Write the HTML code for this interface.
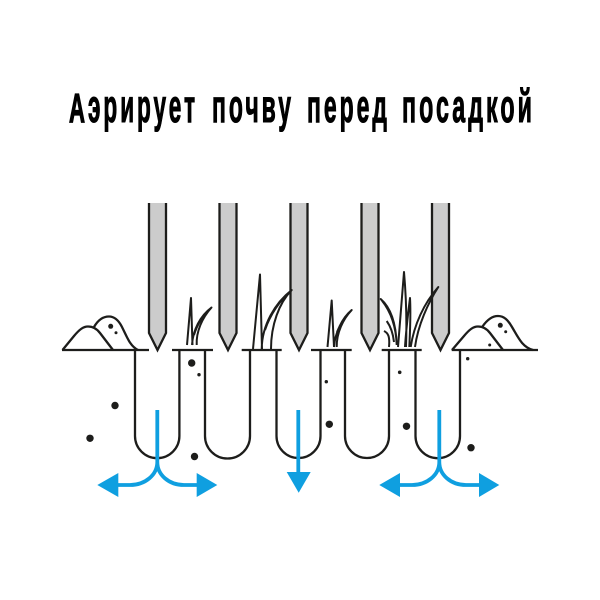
<!DOCTYPE html>
<html><head><meta charset="utf-8"><style>html,body{margin:0;padding:0;background:#fff}svg{display:block}
text{font-family:"Liberation Sans","DejaVu Sans",sans-serif;font-weight:700;fill:#000;stroke:#000;stroke-width:1.100}
</style></head><body>
<svg width="600" height="600" viewBox="0 0 600 600" xmlns="http://www.w3.org/2000/svg">
<rect width="600" height="600" fill="#fff"/>
<text x="69" y="122" font-size="41" textLength="16" lengthAdjust="spacingAndGlyphs" style="stroke-width:1.300">А</text>
<text x="88" y="122" font-size="46" letter-spacing="6" textLength="110" lengthAdjust="spacingAndGlyphs">эрирует</text>
<text x="212" y="122" font-size="46" letter-spacing="6" textLength="82" lengthAdjust="spacingAndGlyphs">почву</text>
<text x="307" y="122" font-size="46" letter-spacing="6" textLength="83" lengthAdjust="spacingAndGlyphs">перед</text>
<text x="402" y="122" font-size="46" letter-spacing="6" textLength="133" lengthAdjust="spacingAndGlyphs">посадкой</text>

<g fill="#ccc" stroke="#1d1d1b" stroke-width="2.300">
<path d="M149 203V333L157.500 350L166 333V203"/>
<path d="M219.500 203V333L228 350L236.500 333V203"/>
<path d="M290.500 203V333L299 350L307.500 333V203"/>
<path d="M361.500 203V333L370 350L378.500 333V203"/>
<path d="M432 203V333L440.500 350L449 333V203"/>
</g>
<g fill="none" stroke="#1d1d1b" stroke-width="2.300">
<path d="M62 350H149M172 350H213M241.700 350H281.700M311 350H351.700M381.700 350H421.700M451.700 350H538"/>
<path d="M135 350V436A22.200 22.200 0 0 0 179.400 436V350"/>
<path d="M205 350V436A22.500 22.500 0 0 0 250 436V350"/>
<path d="M276.500 350V436A22 22 0 0 0 320.500 436V350"/>
<path d="M345 350V436A22 22 0 0 0 389 436V350"/>
<path d="M415.500 350V436A22.200 22.200 0 0 0 460 436V350"/>
<path d="M62.500 350L74 336C79 330 83 326.500 88 326.500C93 326.500 97 329 100 333L113 350"/>
<path d="M94 327C98 320 103 316.500 109 316.500C115 316.500 119 321 122 327C127 337 130 346 138 350"/>
<path d="M452 350L464 336C469 330 473 326.500 478 326.500C483 326.500 487 329 490 333L503 350"/>
<path d="M482.500 326.500C487 320 492 316 498 316C504 316 508 320 512 327C518 337 522 347 533 350"/>
</g>
<g fill="#1d1d1b" stroke="#1d1d1b" stroke-linejoin="round">
<path d="M187 345L191 298L192.500 345M192 345C193 330 200 316 211.500 307.500C202 318 196 332 196.700 345M194 335C197 325 203 315 211.500 307.500" fill="none" stroke-width="2"/>
<path d="M253 349L260 274.500L262 349M261.700 349C262 325 275 303 291.700 290C279 303 271 325 271 349M265 330C270 315 280 300 291.700 290" fill="none" stroke-width="2"/>
<path d="M327.500 347L331.700 300.500L334 347M334 347C335 333 342 318 351.700 310C343 319 336.500 333 336.700 347M337 332C340 325 345 316 351.700 310" fill="none" stroke-width="2"/>
<path d="M398 347C400 320 402 295 404 272C406 295 407 320 406 347M405 347C406 330 408 314 410 298C411 315 410 332 409.300 347M410.700 347C414 325 424 303 438.300 287C428 303 418 325 415 347M396.700 345C396 325 390 310 380.700 299C390 307 396 322 396.700 345M389 347C390 336 388 333 384 331M394 342C393 333 391 327 386.700 321" fill="none" stroke-width="2"/>
</g>
<g fill="#1d1d1b">
<circle cx="110.700" cy="326.300" r="2.500"/><circle cx="116" cy="332.700" r="1.500"/>
<circle cx="500.300" cy="325.300" r="2.500"/><circle cx="505.700" cy="331.700" r="1.500"/><circle cx="489.700" cy="345" r="1.500"/><circle cx="467.700" cy="358.700" r="1.700"/>
<circle cx="191.700" cy="363" r="3.700"/><circle cx="199" cy="374.700" r="1.700"/><circle cx="115" cy="405.500" r="3.700"/><circle cx="90" cy="438.300" r="3.700"/><circle cx="194.500" cy="456.500" r="3.700"/>
<circle cx="326.300" cy="381.700" r="1.700"/><circle cx="329.300" cy="424.300" r="3.700"/><circle cx="399.700" cy="372.300" r="1.800"/><circle cx="406.500" cy="426.300" r="3.700"/><circle cx="471" cy="447.700" r="3.700"/>
</g>
<g fill="none" stroke="#0f9fe0" stroke-width="3.800">
<path d="M157.300 410V462C157.300 475 145 485 130 485H112M157.300 462C157.300 475 169 485 184 485H202"/>
<path d="M298.300 410V476"/>
<path d="M439.300 410V462C439.300 475 427 485 412 485H394M439.300 462C439.300 475 451 485 466 485H484"/>
</g>
<g fill="#0f9fe0">
<path d="M97.300 485L118.300 473V497Z"/><path d="M217.300 485L196.700 473V497Z"/>
<path d="M286.700 472H310.700L298.700 492.700Z"/>
<path d="M379.300 485L400 473V497Z"/><path d="M499.300 485L479 473V497Z"/>
</g>
</svg>
</body></html>
